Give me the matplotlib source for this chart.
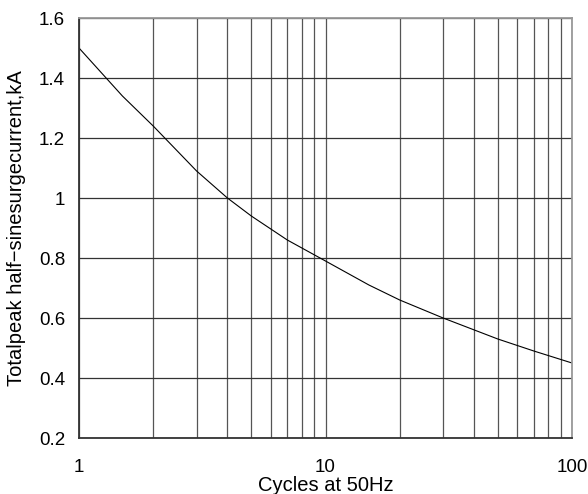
import matplotlib
matplotlib.use('Agg')
from matplotlib import pyplot as plt
from matplotlib.ticker import FixedLocator, NullFormatter

plt.rcParams['font.family'] = ['Liberation Sans', 'DejaVu Sans']

# Data
cycles = [1, 1.5, 2, 3, 4, 5, 7, 10, 15, 20, 30, 50, 70, 100]
current = [1.5, 1.34, 1.24, 1.09, 1.0, 0.94, 0.86, 0.79, 0.71, 0.66, 0.6, 0.53, 0.49, 0.45]

x_ticks = [1, 10, 100]
x_minor = [2, 3, 4, 5, 6, 7, 8, 9, 20, 30, 40, 50, 60, 70, 80, 90]
y_ticks = [0.2, 0.4, 0.6, 0.8, 1.0, 1.2, 1.4, 1.6]
y_labels = ['0.2', '0.4', '0.6', '0.8', '1', '1.2', '1.4', '1.6']

fig = plt.figure(figsize = (5.88, 4.94), dpi = 100)
ax = fig.add_axes([79/588, 1 - 438/494, (572-79)/588, (438-18)/494])

ax.plot(cycles, current, color = 'black', linewidth = 0.8)

ax.set_xscale('log')
ax.set_xlim(1, 100)
ax.set_ylim(0.2, 1.6)

ax.set_xticks(x_ticks)
ax.set_xticklabels(['1', '10', '100'], fontsize = 13.5)
ax.xaxis.set_minor_locator(FixedLocator(x_minor))
ax.xaxis.set_minor_formatter(NullFormatter())
ax.set_yticks(y_ticks)
ax.set_yticklabels(y_labels, fontsize = 13.5)

ax.tick_params(axis = 'x', which = 'both', length = 0, pad = 15)
ax.tick_params(axis = 'y', length = 0, pad = 10)

ax.grid(axis = 'x', which = 'both', color = '#555555', linewidth = 0.9)
ax.grid(axis = 'y', which = 'major', color = '#333333', linewidth = 0.9)
ax.spines['left'].set_color('#333333')
ax.spines['bottom'].set_color('#333333')
ax.spines['top'].set_color('#999999')
ax.spines['right'].set_color('#999999')
for s in ax.spines.values():
    s.set_linewidth(1.3)

ax.set_xlabel('Cycles at 50Hz', fontsize = 14.5, labelpad = 0)
ax.set_ylabel('Totalpeak half\u2212sinesurgecurrent,kA', fontsize = 14.5, labelpad = 9)

fig.savefig('out.png', dpi = 100)
